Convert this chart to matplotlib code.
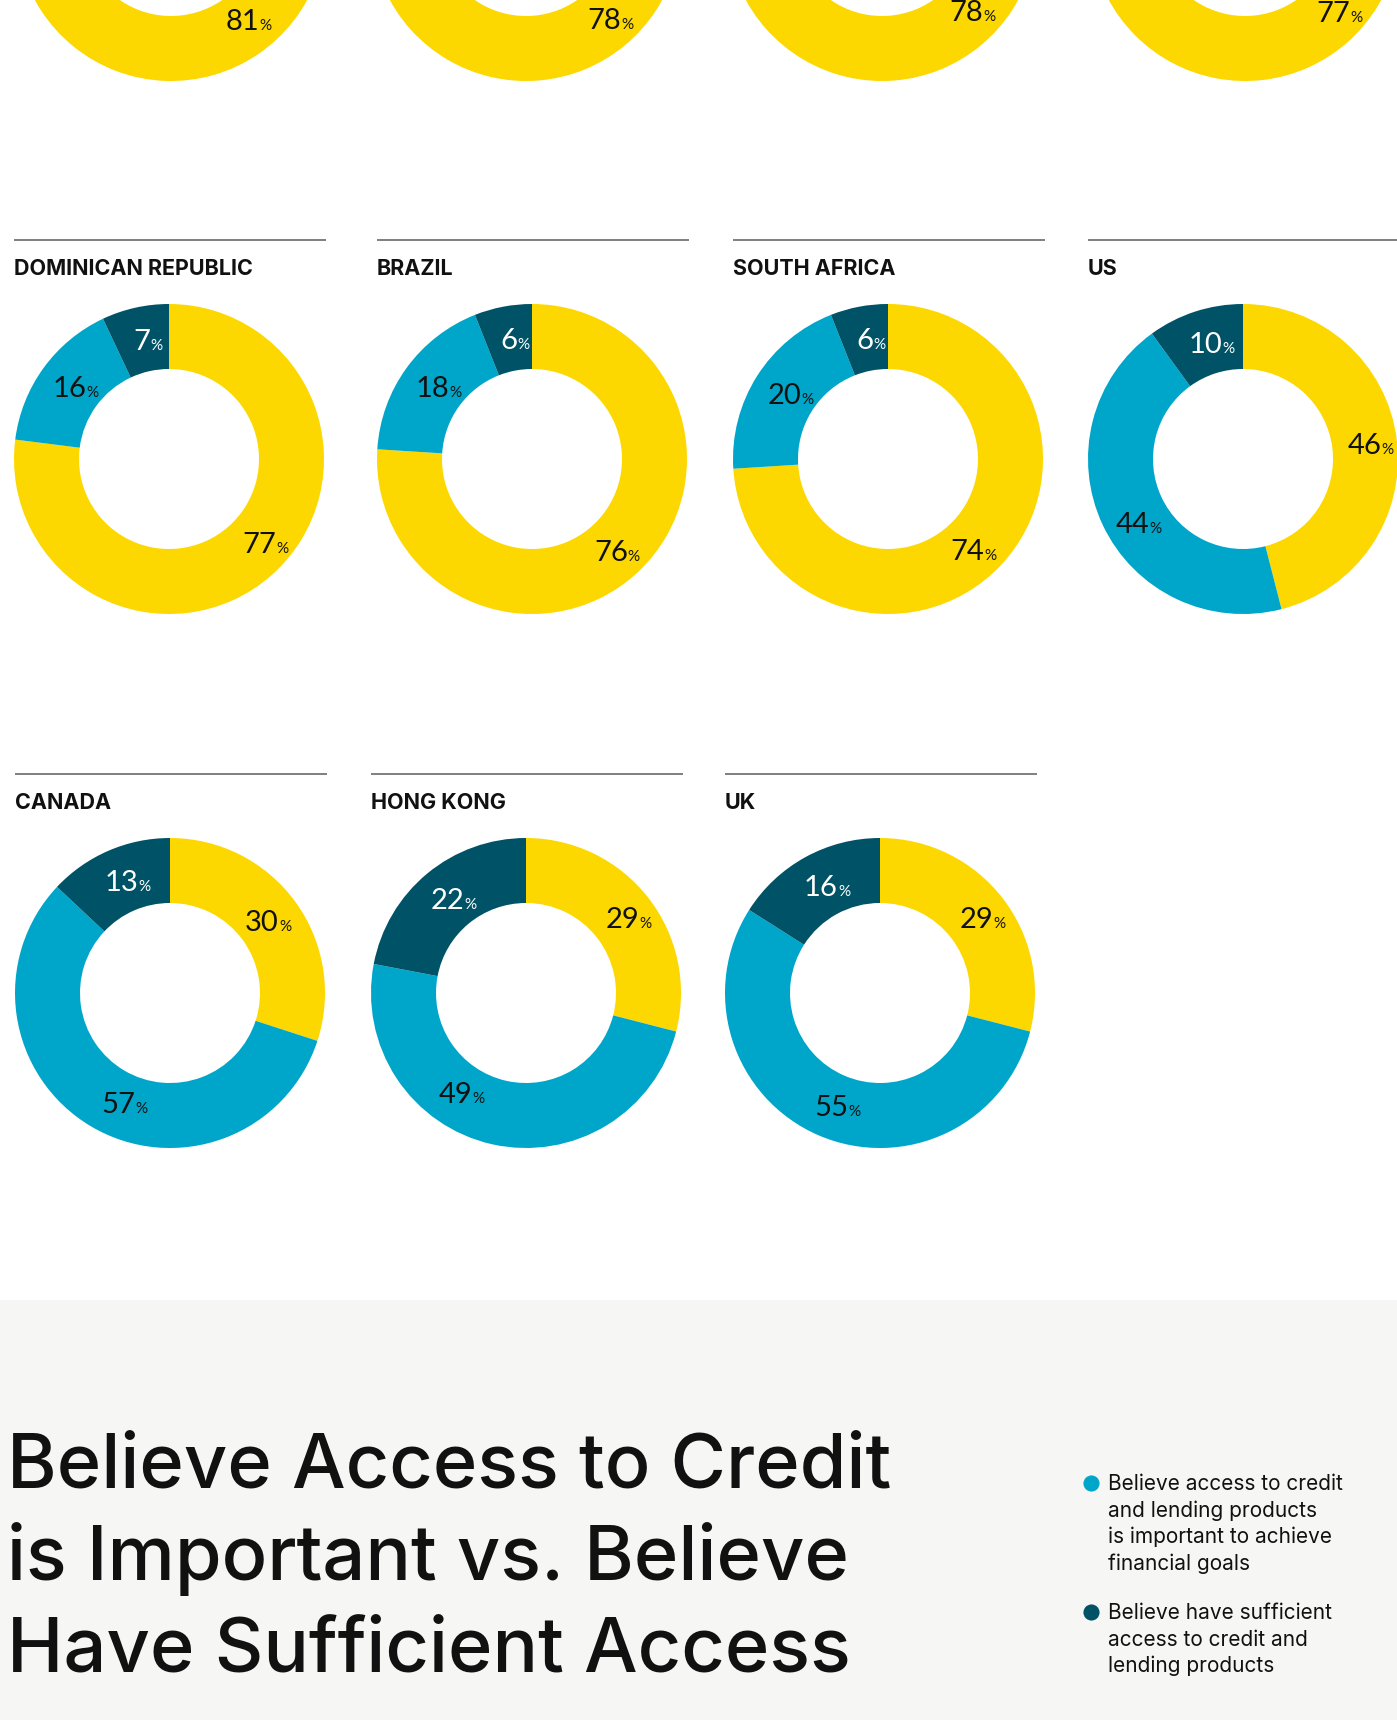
import matplotlib.pyplot as plt
from matplotlib.patches import Rectangle
import numpy as np

W, H = 1397, 1720

YELLOW = "#fcd800"
BLUE = "#00a6c9"
DARK = "#005366"
INK = "#111111"

# top row is cut by the top edge: only the yellow share can be read,
# the two other shares are hidden and only estimated here
top_yellow = [81, 78, 78, 77]
top_blue = [13, 16, 16, 17]
top_dark = [6, 6, 6, 6]

countries = ["DOMINICAN REPUBLIC", "BRAZIL", "SOUTH AFRICA", "US",
             "CANADA", "HONG KONG", "UK"]
yellow = [77, 76, 74, 46, 30, 29, 29]
blue = [16, 18, 20, 44, 57, 49, 55]
dark = [7, 6, 6, 10, 13, 22, 16]

title_lines = ["Believe Access to Credit",
               "is Important vs. Believe",
               "Have Sufficient Access"]
legend_items = [
    (BLUE, ["Believe access to credit", "and lending products",
            "is important to achieve", "financial goals"]),
    (DARK, ["Believe have sufficient", "access to credit and",
            "lending products"]),
]

# layout in pixels (image coords, y down)
R, r = 155, 90
row_y = [-74, 459, 993]
row_x = [[171, 526, 882, 1245], [169, 532, 888, 1243], [170, 526, 880]]

# hand placement of a few labels in the original (dx, dy px per segment)
top_nudge = [(3, -8), (0, -2), (6, -10), (7, -6)]
nudge = {0: [(9, -8), (0, 0), (0, 0)],
         1: [(-5, 2), (0, 0), (0, 0)],
         2: [(-10, 7), (0, 0), (0, 0)],
         3: [(0, 0), (0, 11), (0, 0)],
         4: [(-7, 0), (11, 4), (0, 0)],
         5: [(0, 0), (-44, -20), (0, 0)]}

NUM_FONT = "Lato"
TXT_FONT = "Inter"

fig = plt.figure(figsize=(W / 100, H / 100), dpi=100)
ax = fig.add_axes([0, 0, 1, 1])


def Y(y):
    return H - y


def donut(cx, cy, vals, offs, n_labels=3):
    wedges, _ = ax.pie(vals, colors=[YELLOW, BLUE, DARK], center=(cx, Y(cy)),
                       radius=R, startangle=90, counterclock=False,
                       wedgeprops=dict(width=R - r, linewidth=0))
    rl = (R + r) / 2
    for w, v, col, (dx, dy) in list(zip(wedges, vals, [INK, INK, "white"],
                                        offs))[:n_labels]:
        th = np.deg2rad((w.theta1 + w.theta2) / 2)
        x = cx + rl * np.cos(th) + dx
        yb = Y(cy) + rl * np.sin(th) - 10.5 - dy
        t = ax.text(x, yb, str(v), ha="center", va="baseline", fontsize=21,
                    color=col, family=NUM_FONT, zorder=5)
        ax.annotate("%", xy=(1.0, yb), xycoords=(t, "data"), ha="left",
                    va="baseline", fontsize=11, color=col,
                    family=NUM_FONT, zorder=5)


# top row (cropped): only the yellow label is inside the picture
for x, a, b, c, nd in zip(row_x[0], top_yellow, top_blue, top_dark, top_nudge):
    donut(x, row_y[0], [a, b, c], [nd], n_labels=1)

# rows 2 and 3
k = 0
for row in (1, 2):
    for x in row_x[row]:
        donut(x, row_y[row], [yellow[k], blue[k], dark[k]],
              nudge.get(k, [(0, 0)] * 3))
        ly = row_y[row] - 219
        ax.plot([x - R, x + R + 2], [Y(ly), Y(ly)], color="#7f7f7f", lw=1.4,
                solid_capstyle="butt")
        ax.text(x - R, Y(row_y[row] - 184), countries[k], ha="left",
                va="baseline", fontsize=15.5, fontweight="bold", color=INK,
                family=TXT_FONT)
        k += 1

# bottom band
ax.add_patch(Rectangle((0, 0), W, H - 1300, color="#f6f7f5", zorder=0, lw=0))

for i, line in enumerate(title_lines):
    ax.text(7, Y(1488 + i * 91.5), line, ha="left", va="baseline",
            fontsize=54.5, color=INK, family=TXT_FONT, fontweight="medium")

for (col, lines), y0 in zip(legend_items, [1483, 1612]):
    ax.scatter([1091], [Y(y0)], s=135, color=col, lw=0, zorder=5)
    for j, line in enumerate(lines):
        ax.text(1108, Y(y0 + 7 + j * 26.7), line, ha="left", va="baseline",
                fontsize=15, color=INK, family=TXT_FONT)

ax.set_xlim(0, W)
ax.set_ylim(0, H)
ax.set_aspect("auto")
ax.axis("off")

fig.savefig("out.png", dpi=100, facecolor="white")
